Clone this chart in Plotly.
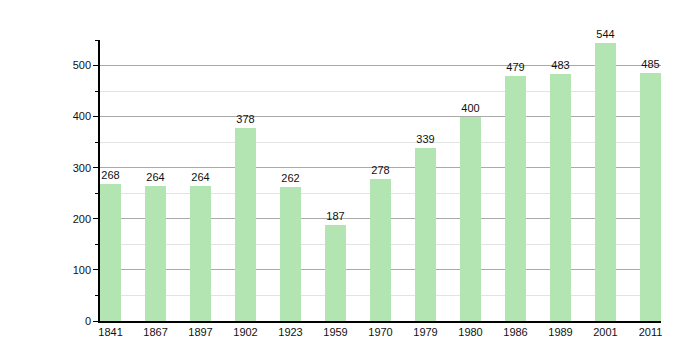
import plotly.graph_objects as go

years = ["1841", "1867", "1897", "1902", "1923", "1959", "1970", "1979", "1980", "1986", "1989", "2001", "2011"]
population = [268, 264, 264, 378, 262, 187, 278, 339, 400, 479, 483, 544, 485]

bw = 0.467
fig = go.Figure(go.Bar(
    x=list(range(len(years))), y=population, width=bw,
    marker=dict(color="#b3e5b3", line=dict(width=0)),
    text=[str(v) for v in population], textposition="outside",
    textfont=dict(family="Liberation Sans, Arial, sans-serif", size=11, color="#111"),
    cliponaxis=False,
))
fig.update_layout(
    width=700, height=360,
    margin=dict(l=92, r=47, t=32, b=47),
    plot_bgcolor="white", paper_bgcolor="white",
    showlegend=False,
    font=dict(family="Liberation Sans, Arial, sans-serif", size=11, color="#111"),
    xaxis=dict(
        range=[-bw / 2, len(years) - 1 + bw / 2],
        tickvals=list(range(len(years))), ticktext=years,
        showgrid=False, showline=True, linecolor="black", linewidth=1.5,
        ticks="", ticklen=0, zeroline=False, fixedrange=True, automargin=False,
    ),
    yaxis=dict(
        range=[0, 550], dtick=100, tick0=0,
        showgrid=True, gridcolor="#aaaaaa", gridwidth=1,
        showline=True, linecolor="black", linewidth=1.5,
        ticks="outside", ticklen=5, tickcolor="black",
        zeroline=False, automargin=False,
        minor=dict(dtick=50, tick0=0, showgrid=True, gridcolor="#e3e3e3",
                   ticks="outside", ticklen=3, tickcolor="black"),
    ),
    bargap=0,
)
fig.write_html("out.html")
